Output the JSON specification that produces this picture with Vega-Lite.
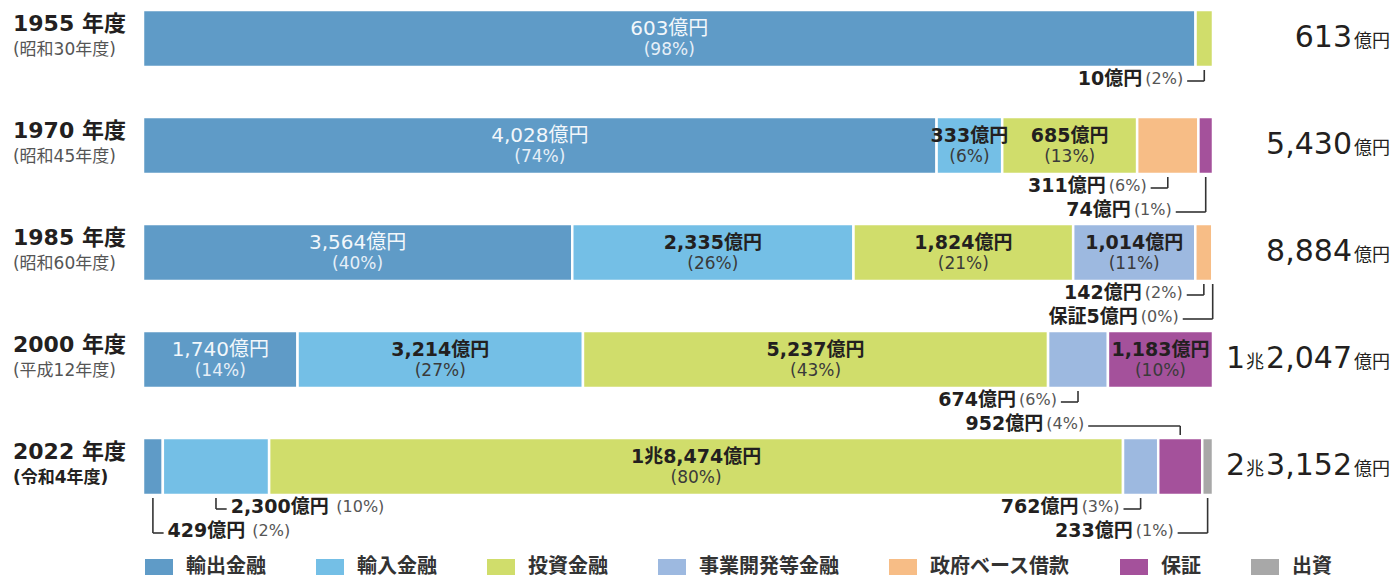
{
  "$schema": "https://vega.github.io/schema/vega-lite/v6.json",
  "width": 1397,
  "height": 578,
  "autosize": {"type": "none"},
  "padding": 0,
  "background": "white",
  "config": {"view": {"stroke": null}},
  "datasets": {
    "segs": [
      {"year": "1955", "cat": "輸出金融", "value": 603, "place": "in"},
      {"year": "1955", "cat": "投資金融", "value": 10, "place": "b1"},
      {"year": "1970", "cat": "輸出金融", "value": 4028, "place": "in"},
      {"year": "1970", "cat": "輸入金融", "value": 333, "place": "in"},
      {"year": "1970", "cat": "投資金融", "value": 685, "place": "in"},
      {"year": "1970", "cat": "政府ベース借款", "value": 311, "place": "b1"},
      {"year": "1970", "cat": "保証", "value": 74, "place": "b2"},
      {"year": "1985", "cat": "輸出金融", "value": 3564, "place": "in"},
      {"year": "1985", "cat": "輸入金融", "value": 2335, "place": "in"},
      {"year": "1985", "cat": "投資金融", "value": 1824, "place": "in"},
      {"year": "1985", "cat": "事業開発等金融", "value": 1014, "place": "in"},
      {"year": "1985", "cat": "政府ベース借款", "value": 142, "place": "b1"},
      {"year": "1985", "cat": "保証", "value": 5, "place": "b2", "note": "保証"},
      {"year": "2000", "cat": "輸出金融", "value": 1740, "place": "in"},
      {"year": "2000", "cat": "輸入金融", "value": 3214, "place": "in"},
      {"year": "2000", "cat": "投資金融", "value": 5237, "place": "in"},
      {"year": "2000", "cat": "事業開発等金融", "value": 674, "place": "b1"},
      {"year": "2000", "cat": "保証", "value": 1183, "place": "in"},
      {"year": "2022", "cat": "輸出金融", "value": 429, "place": "b2", "side": "right"},
      {"year": "2022", "cat": "輸入金融", "value": 2300, "place": "b1", "side": "right"},
      {"year": "2022", "cat": "投資金融", "value": 18474, "place": "in"},
      {"year": "2022", "cat": "事業開発等金融", "value": 762, "place": "b1"},
      {"year": "2022", "cat": "保証", "value": 952, "place": "a1"},
      {"year": "2022", "cat": "出資", "value": 233, "place": "b2"}
    ],
    "years": [
      {"year": "1955", "era": "昭和30年度", "total": 613},
      {"year": "1970", "era": "昭和45年度", "total": 5430},
      {"year": "1985", "era": "昭和60年度", "total": 8884},
      {"year": "2000", "era": "平成12年度", "total": 12047},
      {"year": "2022", "era": "令和4年度", "total": 23152}
    ]
  },
  "layer": [
    {
      "data": {"name": "segs"},
      "transform": [
        {"joinaggregate": [{"op": "sum", "field": "value", "as": "tot"}], "groupby": ["year"]},
        {"calculate": "indexof(['輸出金融','輸入金融','投資金融','事業開発等金融','政府ベース借款','保証','出資'], datum.cat)", "as": "ord"},
        {"window": [{"op": "sum", "field": "value", "as": "cum"}], "groupby": ["year"], "sort": [{"field": "ord"}], "frame": [null, 0]},
        {"calculate": "indexof(['1955','1970','1985','2000','2022'], datum.year)", "as": "row"},
        {"calculate": "(datum.cum - datum.value) / datum.tot * 100", "as": "x1"},
        {"calculate": "datum.cum / datum.tot * 100", "as": "x2"},
        {"calculate": "(datum.x1 + datum.x2) / 2", "as": "mid"},
        {"calculate": "datum.row - 0.2664", "as": "y1"},
        {"calculate": "datum.row + 0.2664", "as": "y2"},
        {"calculate": "(datum.note ? datum.note : '') + (datum.value >= 10000 ? floor(datum.value / 10000) + '兆' + format(datum.value % 10000, ',') : format(datum.value, ',')) + '億円'", "as": "amt"},
        {"calculate": "'(' + round(datum.value / datum.tot * 100) + '%)'", "as": "pctl"}
      ],
      "layer": [
        {
          "mark": {"type": "bar", "stroke": "white", "strokeWidth": 2.5},
          "encoding": {
            "x": {"field": "x1", "type": "quantitative", "scale": {"domain": [-13.364, 117.196], "nice": false, "zero": false}, "axis": null},
            "x2": {"field": "x2"},
            "y": {"field": "y1", "type": "quantitative", "scale": {"domain": [-0.3598, 5.0421], "reverse": true, "nice": false, "zero": false}, "axis": null},
            "y2": {"field": "y2"},
            "color": {
              "field": "cat", "type": "nominal",
              "scale": {
                "domain": ["輸出金融", "輸入金融", "投資金融", "事業開発等金融", "政府ベース借款", "保証", "出資"],
                "range": ["#5F9BC7", "#74BFE6", "#D0DD6B", "#9DB9E0", "#F7BD86", "#A4519B", "#A8A8A8"]
              },
              "legend": {
                "title": null, "orient": "none", "legendX": 145, "legendY": 553,
                "direction": "horizontal", "columns": 7,
                "symbolType": "M-1,-0.5714H1V0.5714H-1Z", "symbolSize": 784, "symbolStrokeWidth": 0,
                "labelFont": "Noto Sans CJK JP", "labelFontSize": 20, "labelFontWeight": "bold",
                "labelColor": "#333333", "labelOffset": 13, "columnPadding": 50, "labelLimit": 300
              }
            }
          }
        },
        {
          "transform": [{"filter": "datum.place == 'in' && datum.cat == '輸出金融'"}],
          "mark": {"type": "text", "font": "DejaVu Sans, Noto Sans CJK JP", "fontSize": 20, "fontWeight": "normal", "color": "#F2F7FB", "baseline": "middle", "dy": -9},
          "encoding": {
            "x": {"field": "mid", "type": "quantitative", "axis": null},
            "y": {"field": "row", "type": "quantitative", "axis": null},
            "text": {"field": "amt"}
          }
        },
        {
          "transform": [{"filter": "datum.place == 'in' && datum.cat != '輸出金融'"}],
          "mark": {"type": "text", "font": "DejaVu Sans, Noto Sans CJK JP", "fontSize": 19, "fontWeight": "bold", "color": "#231F20", "baseline": "middle", "dy": -9},
          "encoding": {
            "x": {"field": "mid", "type": "quantitative", "axis": null},
            "y": {"field": "row", "type": "quantitative", "axis": null},
            "text": {"field": "amt"}
          }
        },
        {
          "transform": [{"filter": "datum.place == 'in'"}],
          "mark": {"type": "text", "font": "DejaVu Sans, Noto Sans CJK JP", "fontSize": 17, "fontWeight": "normal", "baseline": "middle", "dy": 12},
          "encoding": {
            "x": {"field": "mid", "type": "quantitative", "axis": null},
            "y": {"field": "row", "type": "quantitative", "axis": null},
            "text": {"field": "pctl"},
            "color": {"condition": {"test": "datum.cat == '輸出金融'", "value": "#E6EFF7"}, "value": "#3A3A3A"}
          }
        },
        {
          "transform": [
            {"filter": "datum.place != 'in'"},
            {"calculate": "datum.place == 'a1' ? datum.row - 0.3785 : datum.place == 'b1' ? datum.row + 0.3972 : datum.row + 0.6215", "as": "ly"},
            {"calculate": "datum.place == 'a1' ? datum.row - 0.2944 : datum.row + 0.2944", "as": "ey"},
            {"calculate": "datum.side == 'right' ? datum.mid + 1.0 : datum.mid - (datum.place == 'b1' ? 1.6 : datum.place == 'b2' ? 2.8 : 8.6)", "as": "lx"},
            {"calculate": "datum.lx + (7 + 40 + 20 * (0.696 * length(toString(datum.value)) + (datum.value >= 1000 ? 0.348 : 0))) / 10.7", "as": "pxr"}
          ],
          "layer": [
            {
              "mark": {"type": "rule", "color": "#333333", "strokeWidth": 1.6},
              "encoding": {
                "x": {"field": "mid", "type": "quantitative", "axis": null},
                "y": {"field": "ey", "type": "quantitative", "axis": null},
                "y2": {"field": "ly"}
              }
            },
            {
              "mark": {"type": "rule", "color": "#333333", "strokeWidth": 1.6},
              "encoding": {
                "x": {"field": "mid", "type": "quantitative", "axis": null},
                "x2": {"field": "lx"},
                "y": {"field": "ly", "type": "quantitative", "axis": null}
              }
            },
            {
              "transform": [{"filter": "datum.side != 'right'"}],
              "mark": {"type": "text", "font": "DejaVu Sans, Noto Sans CJK JP", "fontSize": 19, "fontWeight": "bold", "color": "#231F20", "align": "right", "baseline": "middle", "dx": -45, "dy": -2},
              "encoding": {
                "x": {"field": "lx", "type": "quantitative", "axis": null},
                "y": {"field": "ly", "type": "quantitative", "axis": null},
                "text": {"field": "amt"}
              }
            },
            {
              "transform": [{"filter": "datum.side != 'right'"}],
              "mark": {"type": "text", "font": "DejaVu Sans, Noto Sans CJK JP", "fontSize": 16, "fontWeight": "normal", "color": "#555555", "align": "right", "baseline": "middle", "dx": -4, "dy": -2},
              "encoding": {
                "x": {"field": "lx", "type": "quantitative", "axis": null},
                "y": {"field": "ly", "type": "quantitative", "axis": null},
                "text": {"field": "pctl"}
              }
            },
            {
              "transform": [{"filter": "datum.side == 'right'"}],
              "mark": {"type": "text", "font": "DejaVu Sans, Noto Sans CJK JP", "fontSize": 19, "fontWeight": "bold", "color": "#231F20", "align": "left", "baseline": "middle", "dx": 4, "dy": -2},
              "encoding": {
                "x": {"field": "lx", "type": "quantitative", "axis": null},
                "y": {"field": "ly", "type": "quantitative", "axis": null},
                "text": {"field": "amt"}
              }
            },
            {
              "transform": [{"filter": "datum.side == 'right'"}],
              "mark": {"type": "text", "font": "DejaVu Sans, Noto Sans CJK JP", "fontSize": 16, "fontWeight": "normal", "color": "#555555", "align": "left", "baseline": "middle", "dy": -2},
              "encoding": {
                "x": {"field": "pxr", "type": "quantitative", "axis": null},
                "y": {"field": "ly", "type": "quantitative", "axis": null},
                "text": {"field": "pctl"}
              }
            }
          ]
        }
      ]
    },
    {
      "data": {"name": "years"},
      "transform": [
        {"calculate": "indexof(['1955','1970','1985','2000','2022'], datum.year)", "as": "row"},
        {"calculate": "datum.year + ' 年度'", "as": "ylab"},
        {"calculate": "'(' + datum.era + ')'", "as": "elab"},
        {"calculate": "format(datum.total % 10000, ',')", "as": "tmain"},
        {"calculate": "floor(datum.total / 10000)", "as": "cho"}
      ],
      "layer": [
        {
          "mark": {"type": "text", "font": "DejaVu Sans, Noto Sans CJK JP", "fontSize": 22, "fontWeight": "bold", "color": "#231F20", "align": "left", "baseline": "middle", "dy": -14},
          "encoding": {
            "x": {"datum": -12.15, "type": "quantitative", "axis": null},
            "y": {"field": "row", "type": "quantitative", "axis": null},
            "text": {"field": "ylab"}
          }
        },
        {
          "transform": [{"filter": "datum.year != '2022'"}],
          "mark": {"type": "text", "font": "DejaVu Sans, Noto Sans CJK JP", "fontSize": 17, "fontWeight": "normal", "color": "#555555", "align": "left", "baseline": "middle", "dy": 12},
          "encoding": {
            "x": {"datum": -12.15, "type": "quantitative", "axis": null},
            "y": {"field": "row", "type": "quantitative", "axis": null},
            "text": {"field": "elab"}
          }
        },
        {
          "transform": [{"filter": "datum.year == '2022'"}],
          "mark": {"type": "text", "font": "DejaVu Sans, Noto Sans CJK JP", "fontSize": 17, "fontWeight": "bold", "color": "#231F20", "align": "left", "baseline": "middle", "dy": 12},
          "encoding": {
            "x": {"datum": -12.15, "type": "quantitative", "axis": null},
            "y": {"field": "row", "type": "quantitative", "axis": null},
            "text": {"field": "elab"}
          }
        },
        {
          "mark": {"type": "text", "font": "Noto Sans CJK JP", "fontSize": 18, "fontWeight": "normal", "color": "#231F20", "align": "right", "baseline": "alphabetic", "dy": 9},
          "encoding": {
            "x": {"datum": 116.54, "type": "quantitative", "axis": null},
            "y": {"field": "row", "type": "quantitative", "axis": null},
            "text": {"value": "億円"}
          }
        },
        {
          "mark": {"type": "text", "font": "DejaVu Sans, Noto Sans CJK JP", "fontSize": 30, "fontWeight": "normal", "color": "#231F20", "align": "right", "baseline": "alphabetic", "dy": 9, "dx": -38},
          "encoding": {
            "x": {"datum": 116.54, "type": "quantitative", "axis": null},
            "y": {"field": "row", "type": "quantitative", "axis": null},
            "text": {"field": "tmain"}
          }
        },
        {
          "transform": [{"filter": "datum.cho > 0"}],
          "mark": {"type": "text", "font": "Noto Sans CJK JP", "fontSize": 18, "fontWeight": "normal", "color": "#231F20", "align": "right", "baseline": "alphabetic", "dy": 9, "dx": -126},
          "encoding": {
            "x": {"datum": 116.54, "type": "quantitative", "axis": null},
            "y": {"field": "row", "type": "quantitative", "axis": null},
            "text": {"value": "兆"}
          }
        },
        {
          "transform": [{"filter": "datum.cho > 0"}],
          "mark": {"type": "text", "font": "DejaVu Sans, Noto Sans CJK JP", "fontSize": 30, "fontWeight": "normal", "color": "#231F20", "align": "right", "baseline": "alphabetic", "dy": 9, "dx": -145},
          "encoding": {
            "x": {"datum": 116.54, "type": "quantitative", "axis": null},
            "y": {"field": "row", "type": "quantitative", "axis": null},
            "text": {"field": "cho", "type": "quantitative", "format": "d"}
          }
        }
      ]
    }
  ]
}
